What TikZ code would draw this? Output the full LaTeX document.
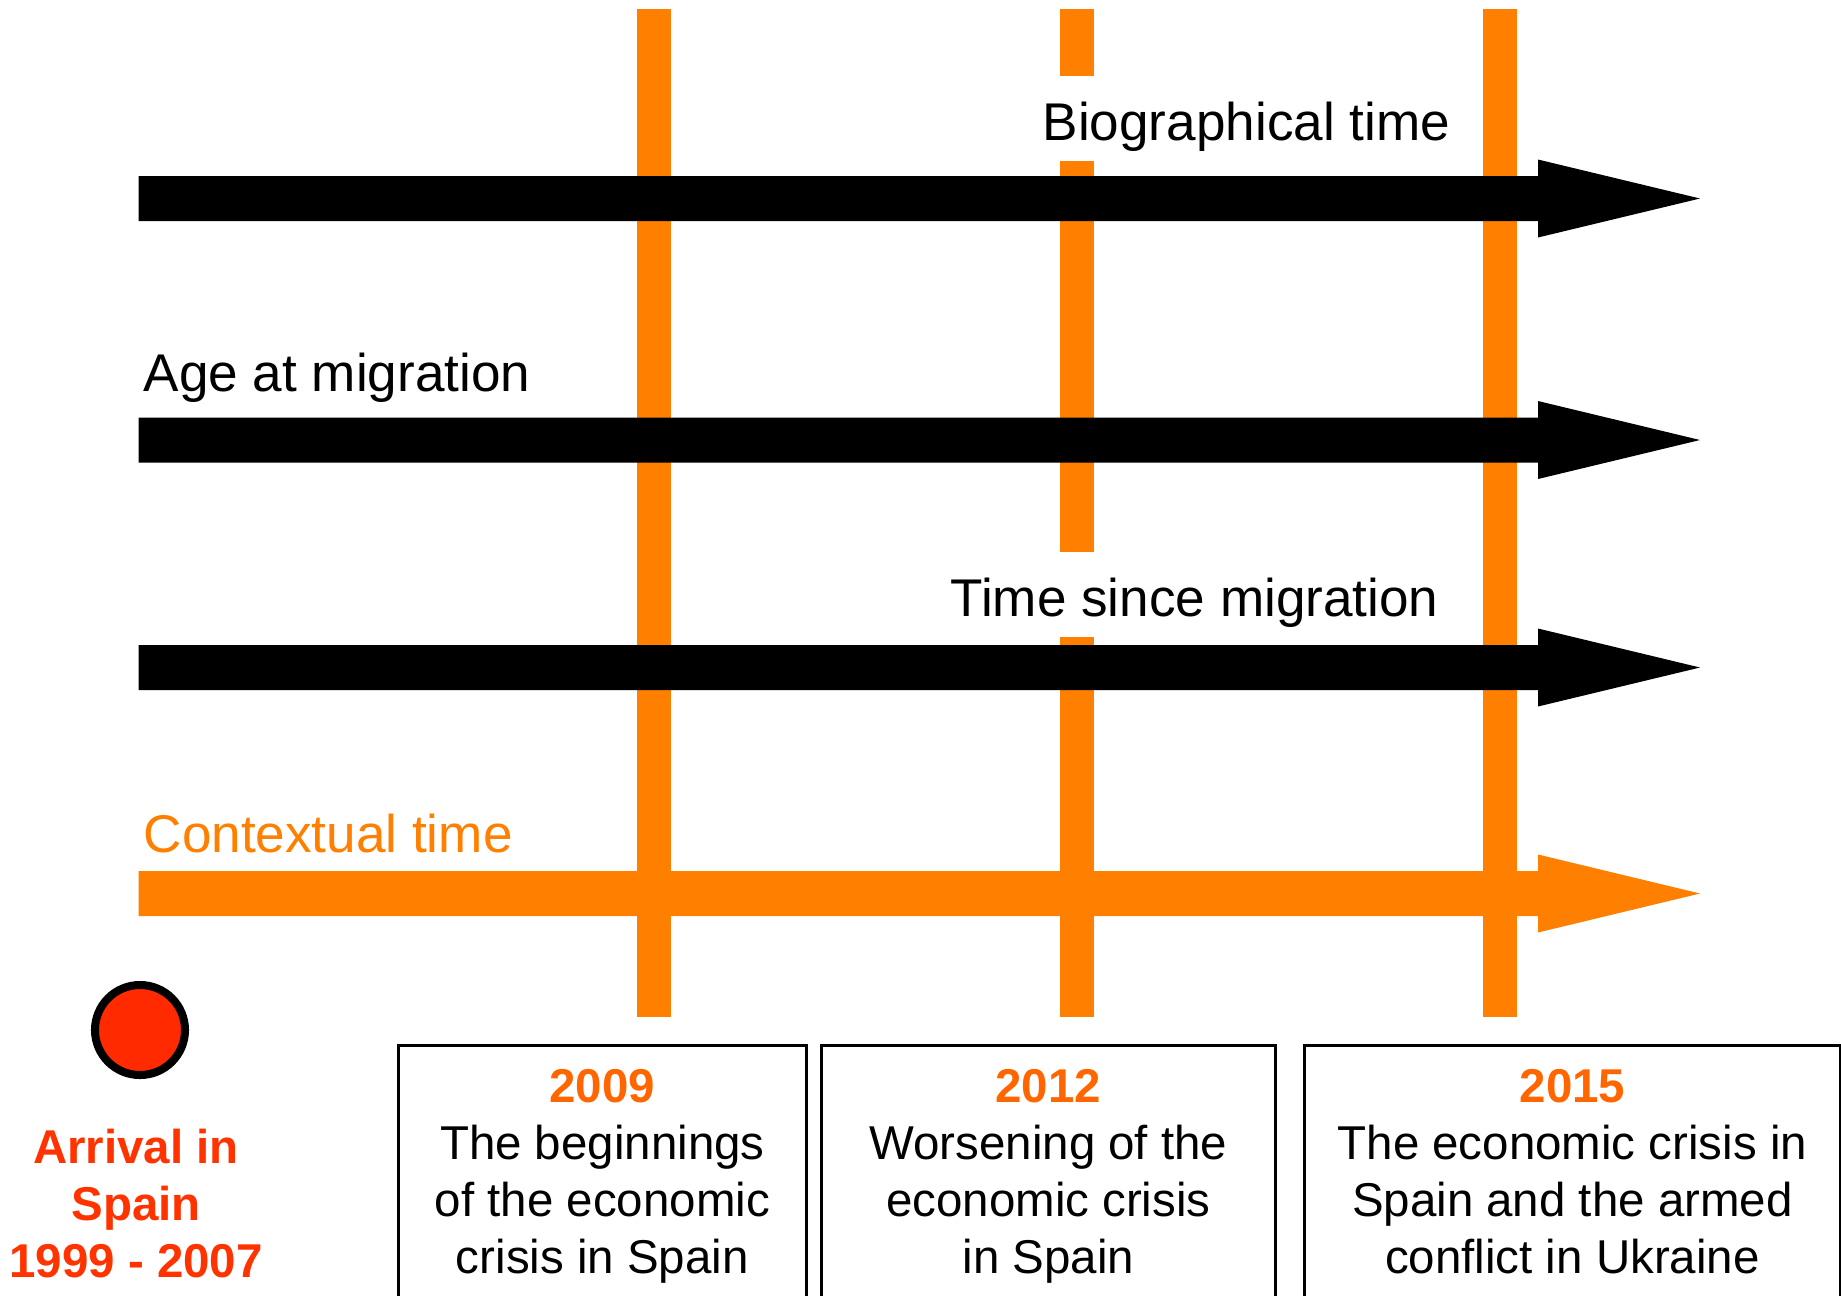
\documentclass[tikz,border=0pt]{standalone}
\usepackage{fontspec}
\setmainfont{Liberation Sans}
\usepackage{tikz}
\usetikzlibrary{positioning}

\definecolor{ctxorange}{RGB}{255,127,0}
\definecolor{yearorange}{RGB}{255,102,0}
\definecolor{arrivalred}{RGB}{255,51,0}
\definecolor{dotred}{RGB}{255,42,0}

\tikzset{
    timeline/.style  = {line width = 0.33cm, draw = ctxorange},
    axislabel/.style = {fill = white, inner xsep = 0pt, inner ysep = 0.1cm,
                        text height = 0.54cm, text depth = 0.11cm, anchor = base west,
                        font = \fontsize{15.1pt}{18pt}\selectfont},
    eventbox/.style  = {draw = black, line width = 0.025cm, anchor = north west,
                        minimum height = 3cm, inner sep = 0pt},
    eventtext/.style = {align = center, inner sep = 0pt, anchor = north,
                        font = \fontsize{13.5pt}{16.2pt}\selectfont}
}

\begin{document}
\begin{tikzpicture}[x = 0.01cm, y = -0.01cm]
                \useasboundingbox (0,0) rectangle (1841,1296);
                \clip (0,0) rectangle (1841,1296);

                % Draw the year lines:
                \foreach \x in {654, 1077, 1500}
                    \draw [timeline] (\x,9) -- (\x,1017);

                % Draw the axis labels:
                \node [axislabel] (Bio) at (1042,140) {Biographical time};
                \node [axislabel] (Age) at (143,391) {Age at migration};
                \node [axislabel] (Since) at (950,616) {Time since migration};
                \node [axislabel, text = ctxorange] (Context) at (143,852) {Contextual time};

                % Draw the time arrows:
                \foreach \y/\colour in {198.5/black, 440/black, 667.5/black, 893.5/ctxorange}
                    \fill [\colour] (138.5,\y-22.5) -- (1538,\y-22.5) -- (1538,\y-39) -- (1700,\y)
                        -- (1538,\y+39) -- (1538,\y+22.5) -- (138.5,\y+22.5) -- cycle;

                % Draw the arrival:
                \node [circle, draw = black, line width = 0.08cm, fill = dotred,
                       minimum size = 0.9cm, inner sep = 0pt] (Dot) at (140,1030) {};
                \node [eventtext, text = arrivalred, font = \fontsize{13.5pt}{16.2pt}\selectfont\bfseries,
                       below = 0.49cm of Dot, xshift = -0.04cm] (Arrival) {Arrival in\\Spain\\1999 - 2007};

                % Draw the events:
                \node [eventbox, minimum width = 4.08cm] (Box09) at (397,1044) {};
                \node [eventbox, minimum width = 4.54cm] (Box12) at (820,1044) {};
                \node [eventbox, minimum width = 5.36cm] (Box15) at (1303,1044) {};

                \node [eventtext] (Text09) at ([yshift = -0.25cm]Box09.north)
                    {{\bfseries\color{yearorange}2009}\\The beginnings\\of the economic\\crisis in Spain};
                \node [eventtext] (Text12) at ([yshift = -0.25cm]Box12.north)
                    {{\bfseries\color{yearorange}2012}\\Worsening of the\\economic crisis\\in Spain};
                \node [eventtext] (Text15) at ([yshift = -0.25cm]Box15.north)
                    {{\bfseries\color{yearorange}2015}\\The economic crisis in\\Spain and the armed\\conflict in Ukraine};
            \end{tikzpicture}
\end{document}
